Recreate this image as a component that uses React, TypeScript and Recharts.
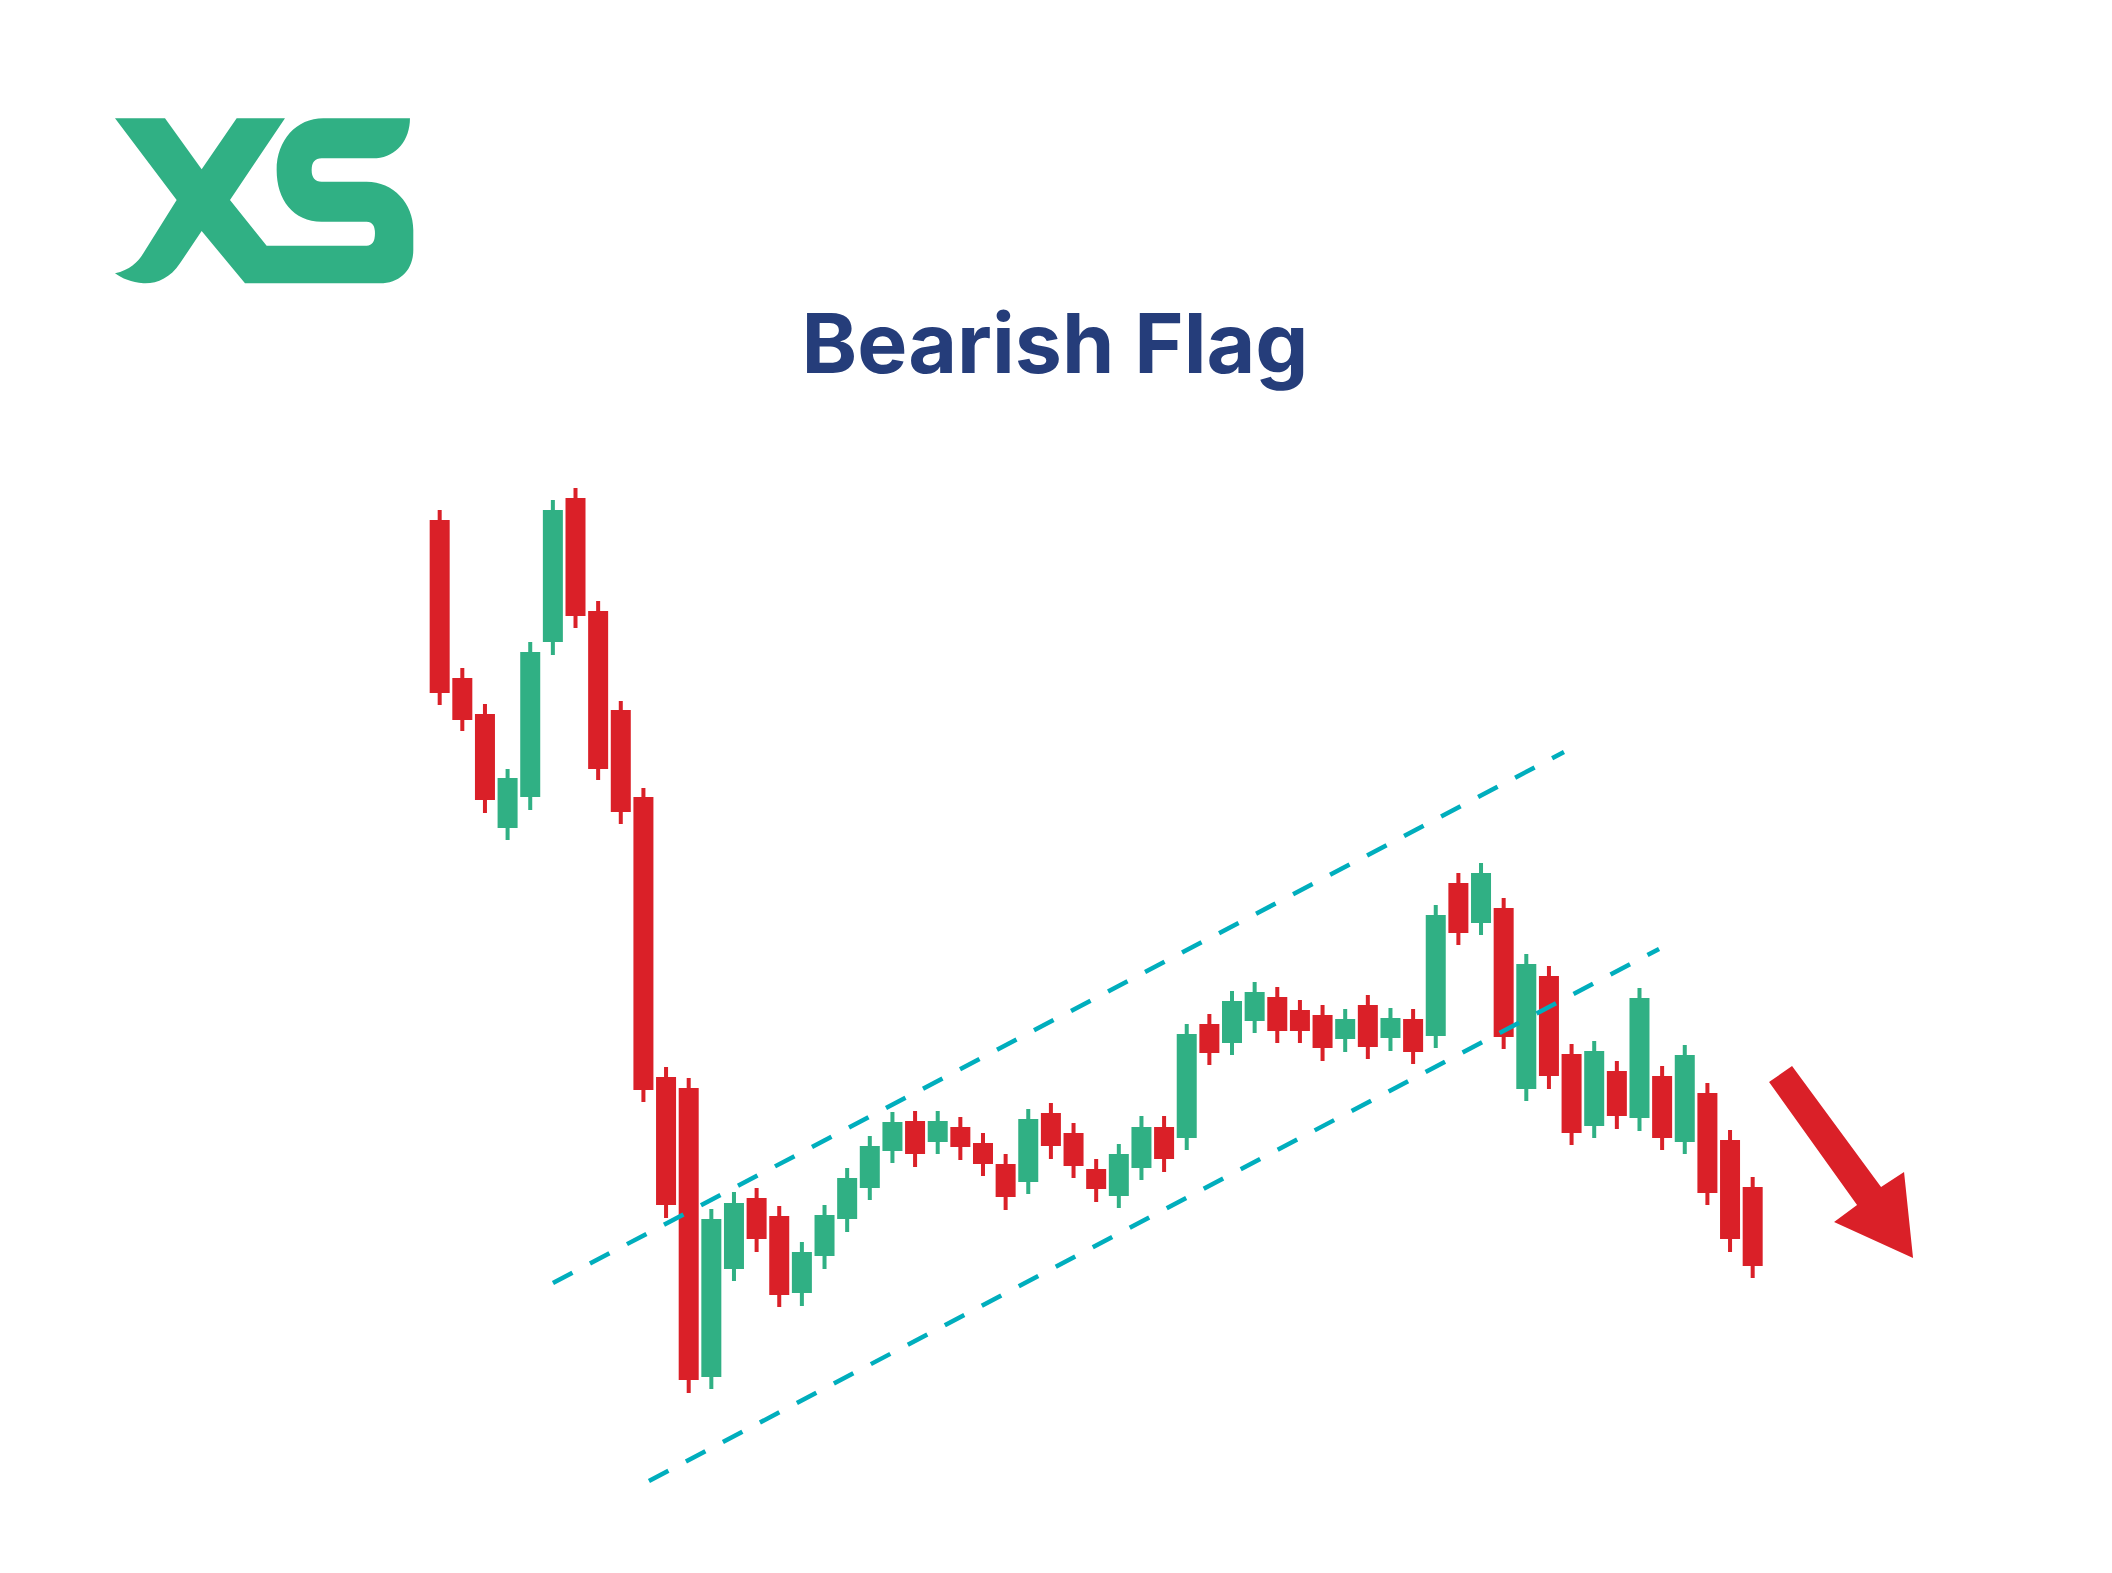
import React from 'react';
import { ComposedChart, Bar, XAxis, YAxis, ReferenceLine, ReferenceDot } from 'recharts';

const RED = '#DA2028';
const GREEN = '#30B084';
const CYAN = '#00AEBD';
const NAVY = '#253D7A';

// candle values, one entry per session
const opens = [
  206, 174.4, 167.2, 144.4, 150.6, 181.6, 210.4, 187.8, 168, 150.6,
  94.6, 92.4, 34.6, 56.2, 70.4, 66.8, 51.4, 58.8, 66.2, 72.4,
  79.8, 85.8, 81.6, 84.6, 81.4, 77.2, 73.6, 87.4, 83.4, 76.2,
  70.8, 76.4, 84.6, 82.4, 105.2, 101.4, 105.8, 110.6, 108, 107,
  102.2, 109, 102.4, 106.2, 102.8, 133.4, 125.4, 128.4, 92.2, 114.8,
  99.2, 84.8, 95.8, 86.4, 94.8, 81.6, 91.4, 82, 72.6,
];
const highs = [
  208, 176.4, 169.2, 156.2, 181.6, 210, 212.4, 189.8, 169.8, 152.4,
  96.6, 94.4, 68.2, 71.6, 72.4, 68.8, 61.6, 69, 76.4, 82.8,
  87.6, 87.8, 87.8, 86.6, 83.4, 79.2, 88.2, 89.4, 85.4, 78.2,
  81.2, 86.8, 86.8, 105.2, 107.2, 111.8, 113.6, 112.6, 110, 109,
  108.2, 111, 108.4, 108.2, 129, 135.4, 137.4, 130.4, 119.2, 116.8,
  101.2, 101.8, 97.8, 112.4, 96.8, 101, 93.4, 84, 74.6,
];
const lows = [
  169, 163.8, 147.4, 142, 148, 179, 184.4, 154, 145.2, 89.6,
  66.4, 31.4, 32.2, 53.8, 59.6, 48.6, 48.8, 56.2, 63.6, 70,
  77.4, 76.6, 79.2, 78, 74.8, 68, 71.2, 78.2, 74.4, 69.6,
  68.4, 74, 75.6, 80, 97, 99, 103.4, 101.4, 101.4, 97.8,
  99.6, 98.2, 99.8, 97.2, 100.4, 121, 123, 100.2, 89.8, 92.2,
  81, 82.4, 84.2, 83.8, 80, 79.2, 69, 59.6, 54.4,
];
const closes = [
  171.4, 166, 150, 154.4, 179.6, 208, 186.8, 156.2, 147.6, 92,
  69, 34, 66.2, 69.4, 62.2, 51, 59.6, 67, 74.4, 80.8,
  85.6, 79.2, 85.8, 80.6, 77.2, 70.6, 86.2, 80.8, 76.8, 72.2,
  79.2, 84.6, 78.2, 103.2, 99.4, 109.8, 111.6, 103.8, 103.8, 100.4,
  106.2, 100.6, 106.4, 99.6, 127, 123.4, 135.4, 102.6, 117.2, 94.8,
  83.4, 99.8, 86.8, 110.4, 82.4, 99, 71.4, 62.2, 56.8,
];

// flag channel, endpoints in (session, price)
const upperLine = [{ x: 4.99, y: 53.4 }, { x: 49.65, y: 159.6 }];
const lowerLine = [{ x: 9.23, y: 13.8 }, { x: 53.85, y: 120.2 }];
const arrowTip = { x: 65.07, y: 58.4 };

const data = opens.map((open, i) => ({
  i,
  open,
  high: highs[i],
  low: lows[i],
  close: closes[i],
  range: [lows[i], highs[i]],
}));

const Candle = (props: any) => {
  const { x, y, width, height, payload } = props;
  if (!payload) return null;
  const { open, close, high, low } = payload;
  const top = Math.min(y, y + height);
  const h = Math.abs(height);
  const k = h / (high - low);
  const cx = x + width / 2;
  const color = close >= open ? GREEN : RED;
  const bTop = top + (high - Math.max(open, close)) * k;
  const bBot = top + (high - Math.min(open, close)) * k;
  return (
    <g>
      <rect x={cx - 2} y={top} width={4} height={h} fill={color} />
      <rect x={cx - 10} y={bTop} width={20} height={bBot - bTop} fill={color} />
    </g>
  );
};

const Arrow = (props: any) => {
  const { cx, cy } = props;
  const pts = [
    [-144, -176], [-121, -192], [-32, -71], [-9, -86],
    [0, 0], [-79, -36], [-56, -53],
  ].map(([dx, dy]) => `${cx + dx},${cy + dy}`).join(' ');
  return <polygon points={pts} fill={RED} />;
};

const Logo = () => (
  <path
    transform="translate(100,100) scale(0.3333)"
    fill={GREEN}
    d="M 45 55 L 195 55 L 305 208 L 410 55 L 555 55 L 390 300 L 500 437 L 800 437
       Q 825 437 825 400 Q 825 365 800 365 L 665 365
       C 580 365 530 300 530 210 C 530 120 590 55 670 55 L 930 55
       C 930 120 890 170 830 175 L 665 175 Q 635 175 635 210 Q 635 245 665 245 L 800 245
       C 880 245 940 310 940 390 L 940 450 C 940 510 900 550 840 550 L 435 550
       L 305 393 L 240 490 C 210 535 170 552 130 550 C 95 548 65 535 45 520
       C 90 510 115 485 130 460 L 230 300 Z"
  />
);

export default function App() {
  return (
    <div style={{ position: 'absolute', left: 0, top: 0, width: 2112, height: 1573, background: '#fff' }}>
      <svg width={2112} height={1573} style={{ position: 'absolute', left: 0, top: 0 }}>
        <Logo />
        <text
          x={1055}
          y={373}
          textAnchor="middle"
          fontFamily="Inter, 'Noto Sans', sans-serif"
          fontWeight={700}
          fontSize={83}
          textLength={507}
          lengthAdjust="spacingAndGlyphs"
          fill={NAVY}
        >
          Bearish Flag
        </text>
      </svg>
      <div style={{ position: 'absolute', left: 0, top: 0 }}>
        <ComposedChart
          width={2112}
          height={1573}
          data={data}
          margin={{ top: 450, right: 177.9, bottom: 23, left: 394.72 }}
        >
          <XAxis dataKey="i" type="number" domain={[-2, 66]} hide />
          <YAxis type="number" domain={[0, 220]} hide />
          <Bar dataKey="range" barSize={20} shape={<Candle />} isAnimationActive={false} />
          <ReferenceLine segment={upperLine} stroke={CYAN} strokeWidth={4.5} strokeDasharray="22 19.8" />
          <ReferenceLine segment={lowerLine} stroke={CYAN} strokeWidth={4.5} strokeDasharray="22 19.8" />
          <ReferenceDot x={arrowTip.x} y={arrowTip.y} r={1} shape={<Arrow />} />
        </ComposedChart>
      </div>
    </div>
  );
}
